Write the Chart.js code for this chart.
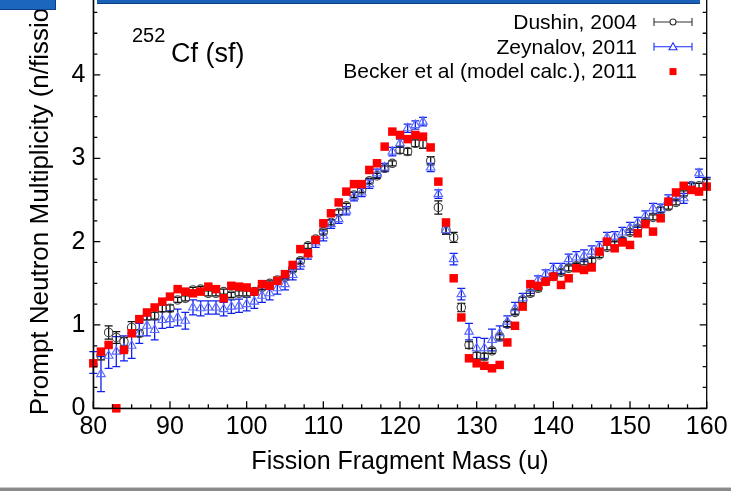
<!DOCTYPE html>
<html>
<head>
<meta charset="utf-8">
<script src="https://cdn.jsdelivr.net/npm/chart.js@4.4.1/dist/chart.umd.min.js"></script>
<style>
html, body { margin: 0; padding: 0; background: #fff; overflow: hidden; }
#wrap { position: absolute; left: 0; top: -20px; width: 731px; height: 511px; }
#topbar { position: absolute; left: 97px; top: 0; width: 603px; height: 3px; background: #1a62b8; border-bottom: 1px solid #0c3f86; }
#topbox { position: absolute; left: 0; top: 0; width: 55px; height: 9px; background: #1d66bd; border-bottom: 1px solid #0c3f86; border-right: 1px solid #0c3f86; }
#bottombar { position: absolute; left: 0; top: 487px; width: 731px; height: 4px; background: #8a8a8a; border-top: 1px solid #c8c8c8; }
</style>
</head>
<body>
<div id="wrap"><canvas id="myChart"></canvas></div>
<div id="topbar"></div>
<div id="topbox"></div>
<div id="bottombar"></div>
<script>
// fission fragment mass (u)
const masses = [80, 81, 82, 83, 84, 85, 86, 87, 88, 89,
    90, 91, 92, 93, 94, 95, 96, 97, 98, 99,
    100, 101, 102, 103, 104, 105, 106, 107, 108, 109,
    110, 111, 112, 113, 114, 115, 116, 117, 118, 119,
    120, 121, 122, 123, 124, 125, 126, 127, 128, 129,
    130, 131, 132, 133, 134, 135, 136, 137, 138, 139,
    140, 141, 142, 143, 144, 145, 146, 147, 148, 149,
    150, 151, 152, 153, 154, 155, 156, 157, 158, 159, 160];

// Dushin, 2004 (no point at 80)
const dushin = [null, 0.63, 0.91, 0.85, 0.80, 0.97, 0.90, 1.10, 1.11, 1.20,
    1.20, 1.30, 1.32, 1.42, 1.43, 1.38, 1.38, 1.40, 1.36, 1.38,
    1.38, 1.40, 1.45, 1.50, 1.54, 1.57, 1.67, 1.77, 1.95, 2.03,
    2.12, 2.23, 2.35, 2.43, 2.56, 2.62, 2.73, 2.79, 2.88, 2.94,
    3.10, 3.08, 3.18, 3.17, 2.97, 2.41, 2.14, 2.05, 1.21, 0.76,
    0.63, 0.62, 0.69, 0.86, 1.01, 1.15, 1.30, 1.38, 1.44, 1.52,
    1.58, 1.63, 1.68, 1.71, 1.75, 1.77, 1.84, 1.93, 1.97, 2.01,
    2.11, 2.16, 2.24, 2.29, 2.38, 2.42, 2.47, 2.58, 2.67, 2.67, 2.72];
const dushinErr = [null, 0.05, 0.08, 0.07, 0.05, 0.07, 0.04, 0.04, 0.04, 0.04,
    0.04, 0.03, 0.03, 0.03, 0.03, 0.03, 0.03, 0.03, 0.03, 0.03,
    0.03, 0.03, 0.03, 0.03, 0.03, 0.03, 0.03, 0.03, 0.03, 0.03,
    0.03, 0.03, 0.03, 0.03, 0.03, 0.03, 0.03, 0.03, 0.03, 0.03,
    0.04, 0.04, 0.04, 0.05, 0.05, 0.08, 0.05, 0.06, 0.05, 0.04,
    0.04, 0.04, 0.03, 0.03, 0.03, 0.03, 0.03, 0.03, 0.03, 0.03,
    0.03, 0.03, 0.03, 0.03, 0.03, 0.03, 0.03, 0.03, 0.03, 0.03,
    0.03, 0.03, 0.03, 0.03, 0.03, 0.03, 0.03, 0.03, 0.03, 0.03, 0.03];

// Zeynalov, 2011
const zeynalov = [0.55, 0.41, 0.63, 0.68, 0.72, 0.75, 0.90, 0.99, 0.94, 1.06,
    1.07, 1.09, 1.05, 1.21, 1.20, 1.21, 1.21, 1.19, 1.22, 1.23,
    1.25, 1.28, 1.35, 1.38, 1.44, 1.49, 1.60, 1.73, 1.85, 1.99,
    2.07, 2.21, 2.27, 2.37, 2.54, 2.59, 2.69, 2.82, 2.89, 3.08,
    3.18, 3.36, 3.40, 3.44, 2.89, 2.57, 2.14, 1.79, 1.37, 0.92,
    0.72, 0.72, 0.82, 0.90, 1.04, 1.20, 1.32, 1.44, 1.54, 1.61,
    1.68, 1.68, 1.79, 1.81, 1.83, 1.88, 1.94, 2.05, 2.06, 2.11,
    2.17, 2.23, 2.31, 2.40, 2.39, 2.50, 2.55, 2.52, 2.66, 2.82, 2.72];
const zeynalovErr = [0.13, 0.21, 0.15, 0.18, 0.15, 0.15, 0.12, 0.12, 0.12, 0.10,
    0.10, 0.10, 0.10, 0.09, 0.09, 0.08, 0.08, 0.08, 0.08, 0.08,
    0.08, 0.08, 0.08, 0.08, 0.07, 0.07, 0.06, 0.06, 0.06, 0.06,
    0.06, 0.05, 0.05, 0.05, 0.05, 0.05, 0.05, 0.05, 0.05, 0.05,
    0.05, 0.05, 0.05, 0.05, 0.05, 0.05, 0.05, 0.07, 0.07, 0.10,
    0.13, 0.12, 0.13, 0.09, 0.07, 0.07, 0.06, 0.06, 0.05, 0.05,
    0.06, 0.06, 0.06, 0.07, 0.07, 0.07, 0.06, 0.06, 0.06, 0.06,
    0.06, 0.06, 0.06, 0.06, 0.06, 0.06, 0.06, 0.06, 0.05, 0.05, 0.05];

// Becker et al (model calc.), 2011
const becker = [0.54, 0.68, 0.76, 0.00, 0.70, 0.90, 1.07, 1.15, 1.21, 1.28,
    1.34, 1.43, 1.40, 1.38, 1.40, 1.46, 1.43, 1.32, 1.47, 1.46,
    1.45, 1.40, 1.49, 1.47, 1.53, 1.61, 1.72, 1.91, 1.86, 2.02,
    2.22, 2.34, 2.47, 2.60, 2.69, 2.69, 2.86, 2.94, 3.14, 3.32,
    3.28, 3.23, 3.28, 3.26, 3.13, 2.72, 2.23, 1.56, 1.09, 0.60,
    0.54, 0.51, 0.48, 0.52, 0.79, 0.99, 1.22, 1.49, 1.47, 1.52,
    1.58, 1.48, 1.56, 1.68, 1.66, 1.69, 1.88, 2.00, 1.92, 1.99,
    1.96, 2.10, 2.21, 2.12, 2.28, 2.48, 2.59, 2.67, 2.62, 2.60, 2.66];

const xTicks = [80, 90, 100, 110, 120, 130, 140, 150, 160];
const yTicks = [0, 1, 2, 3, 4, 5];

const FONT = '"Liberation Sans", Arial, Helvetica, sans-serif';

function toPoints(vals, errs) {
    const pts = [], e = [];
    masses.forEach((m, i) => {
        if (vals[i] === null) return;
        pts.push({ x: m, y: vals[i] });
        e.push(errs ? errs[i] : 0);
    });
    return { pts, e };
}

const dPts = toPoints(dushin, dushinErr);
const zPts = toPoints(zeynalov, zeynalovErr);
const bPts = toPoints(becker, null);

// vertical error bars under the markers
const errorBars = {
    id: 'errorBars',
    beforeDatasetsDraw(chart) {
        const ctx = chart.ctx;
        const ys = chart.scales.y;
        chart.data.datasets.forEach((ds, i) => {
            if (!ds.errors) return;
            const meta = chart.getDatasetMeta(i);
            ctx.save();
            ctx.strokeStyle = ds.errorColor;
            ctx.lineWidth = 1.3;
            ctx.beginPath();
            meta.data.forEach((pt, j) => {
                const v = ds.data[j].y, e = ds.errors[j];
                const y1 = ys.getPixelForValue(v - e), y2 = ys.getPixelForValue(v + e);
                const w = ds.capWidth;
                ctx.moveTo(pt.x, y1); ctx.lineTo(pt.x, y2);
                ctx.moveTo(pt.x - w, y1); ctx.lineTo(pt.x + w, y1);
                ctx.moveTo(pt.x - w, y2); ctx.lineTo(pt.x + w, y2);
            });
            ctx.stroke();
            ctx.restore();
        });
    }
};

// frame with inward ticks, legend and label
const decorations = {
    id: 'decorations',
    afterDraw(chart) {
        const { ctx, chartArea: a, scales: { x, y } } = chart;
        ctx.save();
        ctx.strokeStyle = '#000';
        ctx.lineWidth = 1.3;
        ctx.strokeRect(a.left, a.top, a.right - a.left, a.bottom - a.top);
        ctx.beginPath();
        for (let m = 80; m <= 160; m += 2.5) {
            const px = x.getPixelForValue(m);
            const len = (m % 10 === 0) ? 7 : 4;
            ctx.moveTo(px, a.bottom); ctx.lineTo(px, a.bottom - len);
            ctx.moveTo(px, a.top); ctx.lineTo(px, a.top + len);
        }
        for (let v = 0; v <= 5; v += 0.25) {
            const py = y.getPixelForValue(v);
            const len = (Math.abs(v - Math.round(v)) < 1e-6) ? 7 : 4;
            ctx.moveTo(a.left, py); ctx.lineTo(a.left + len, py);
            ctx.moveTo(a.right, py); ctx.lineTo(a.right - len, py);
        }
        ctx.stroke();

        // legend
        const rows = [
            { text: 'Dushin, 2004', color: '#333', mark: 'circle' },
            { text: 'Zeynalov, 2011', color: '#1a2cff', mark: 'triangle' },
            { text: 'Becker et al (model calc.), 2011', color: '#ff0000', mark: 'square' }
        ];
        ctx.font = '21px ' + FONT;
        ctx.textAlign = 'right';
        ctx.textBaseline = 'middle';
        rows.forEach((r, i) => {
            const ty = 42 + i * 24.8;
            ctx.fillStyle = '#000';
            ctx.fillText(r.text, 637, ty + 1);
            const cx = 673;
            ctx.strokeStyle = r.color;
            ctx.fillStyle = r.color;
            ctx.lineWidth = 1.1;
            if (r.mark === 'square') {
                ctx.fillRect(cx - 3.5, ty - 3.5, 7, 7);
                return;
            }
            ctx.beginPath();
            ctx.moveTo(654, ty); ctx.lineTo(692, ty);
            ctx.moveTo(654, ty - 4); ctx.lineTo(654, ty + 4);
            ctx.moveTo(692, ty - 4); ctx.lineTo(692, ty + 4);
            ctx.stroke();
            ctx.fillStyle = '#fff';
            ctx.beginPath();
            if (r.mark === 'circle') {
                ctx.arc(cx, ty, 3, 0, Math.PI * 2);
            } else {
                ctx.moveTo(cx, ty - 4); ctx.lineTo(cx + 4, ty + 3); ctx.lineTo(cx - 4, ty + 3); ctx.closePath();
            }
            ctx.fill();
            ctx.stroke();
        });

        // 252Cf (sf)
        ctx.fillStyle = '#000';
        ctx.textAlign = 'left';
        ctx.textBaseline = 'alphabetic';
        ctx.font = '20px ' + FONT;
        ctx.fillText('252', 132, 62);
        ctx.font = '27px ' + FONT;
        ctx.fillText('Cf (sf)', 171, 82);
        ctx.restore();
    }
};

const ctx = document.getElementById('myChart').getContext('2d');
new Chart(ctx, {
    type: 'scatter',
    data: {
        datasets: [
            {
                label: 'Becker et al (model calc.), 2011',
                data: bPts.pts,
                pointStyle: 'rect',
                pointRadius: 6,
                backgroundColor: '#ff0000',
                borderWidth: 0,
                clip: false
            },
            {
                label: 'Zeynalov, 2011',
                data: zPts.pts,
                errors: zPts.e,
                errorColor: '#1020ee',
                capWidth: 4,
                pointStyle: 'triangle',
                pointRadius: 5,
                borderColor: '#5a6aff',
                backgroundColor: 'rgba(0,0,0,0)',
                borderWidth: 1.1
            },
            {
                label: 'Dushin, 2004',
                data: dPts.pts,
                errors: dPts.e,
                errorColor: '#111',
                capWidth: 4,
                pointStyle: 'circle',
                pointRadius: 4.2,
                borderColor: '#444',
                backgroundColor: 'rgba(0,0,0,0)',
                borderWidth: 1.1
            }
        ]
    },
    options: {
        responsive: true,
        maintainAspectRatio: false,
        animation: false,
        events: [],
        layout: { padding: { top: 11.6, right: 24.3, left: 0, bottom: 0 } },
        scales: {
            x: {
                type: 'linear',
                min: 80,
                max: 160,
                afterFit: s => { s.height = 82.7; s.paddingLeft = 0; s.paddingRight = 0; },
                afterBuildTicks: s => { s.ticks = xTicks.map(v => ({ value: v })); },
                grid: { drawOnChartArea: false, drawTicks: false },
                border: { display: true, color: '#000', width: 1.3 },
                ticks: { color: '#000', padding: 4, font: { family: FONT, size: 25 } },
                title: {
                    display: true,
                    text: 'Fission Fragment Mass (u)',
                    color: '#000',
                    font: { family: FONT, size: 25 },
                    padding: { top: 0, bottom: 14 }
                }
            },
            y: {
                min: 0,
                max: 5,
                afterFit: s => { s.width = 93.3; s.paddingTop = 0; s.paddingBottom = 0; },
                afterBuildTicks: s => { s.ticks = yTicks.map(v => ({ value: v })); },
                grid: { drawOnChartArea: false, drawTicks: false },
                border: { display: true, color: '#000', width: 1.3 },
                ticks: { color: '#000', padding: 8, font: { family: FONT, size: 25 } },
                title: {
                    display: true,
                    text: 'Prompt Neutron Multiplicity (n/fission)',
                    color: '#000',
                    font: { family: FONT, size: 26 },
                    padding: { top: 25, bottom: 0 }
                }
            }
        },
        plugins: {
            legend: { display: false },
            tooltip: { enabled: false }
        }
    },
    plugins: [errorBars, decorations]
});
</script>
</body>
</html>
